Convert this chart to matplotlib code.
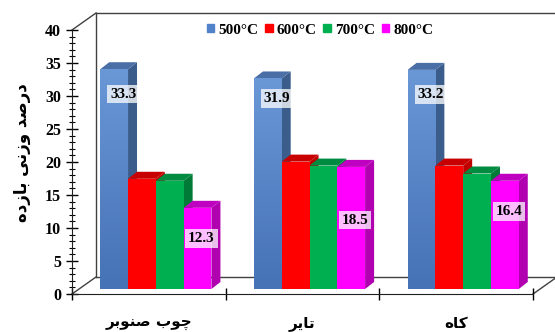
import numpy as np
import matplotlib.pyplot as plt
from matplotlib.patches import Polygon, Rectangle
from matplotlib.colors import LinearSegmentedColormap

categories = ["چوب صنوبر", "تایر", "کاه"]
temps = ["500°C", "600°C", "700°C", "800°C"]
yield_500 = [33.3, 31.9, 33.2]
yield_600 = [16.7, 19.3, 18.7]
yield_700 = [16.4, 18.7, 17.5]
yield_800 = [12.3, 18.5, 16.4]
ylabel = "درصد وزنی بازده"

# where the value boxes sit on the bars (in %)
label_y_500 = [30.3, 29.6, 30.2]
label_y_800 = [8.4, 11.2, 12.5]

# front, side, top colours for each series
colors = [
    ("#5283c8", "#3b5d8c", "#4a6ea6"),
    ("#ff0000", "#c00000", "#c80000"),
    ("#00b050", "#007a37", "#008c40"),
    ("#ff00ff", "#b000b0", "#c000c0"),
]

# matplotlib has no arabic shaping, so pick the presentation forms by hand
FORMS = {
    'ا': ('\ufe8d', '\ufe8e', None, None),
    'ب': ('\ufe8f', '\ufe90', '\ufe91', '\ufe92'),
    'ت': ('\ufe95', '\ufe96', '\ufe97', '\ufe98'),
    'چ': ('\ufb7a', '\ufb7b', '\ufb7c', '\ufb7d'),
    'د': ('\ufea9', '\ufeaa', None, None),
    'ر': ('\ufead', '\ufeae', None, None),
    'ز': ('\ufeaf', '\ufeb0', None, None),
    'ص': ('\ufeb9', '\ufeba', '\ufebb', '\ufebc'),
    'ن': ('\ufee5', '\ufee6', '\ufee7', '\ufee8'),
    'و': ('\ufeed', '\ufeee', None, None),
    'ه': ('\ufee9', '\ufeea', '\ufeeb', '\ufeec'),
    'ک': ('\ufb8e', '\ufb8f', '\ufb90', '\ufb91'),
    'ی': ('\ufbfc', '\ufbfd', '\ufbfe', '\ufbff'),
}


def shape(s):
    out = []
    for k, ch in enumerate(s):
        if ch not in FORMS:
            out.append(ch)
            continue
        prev = s[k - 1] if k > 0 else ''
        nxt = s[k + 1] if k + 1 < len(s) else ''
        f = FORMS[ch]
        jp = prev in FORMS and FORMS[prev][2] is not None
        jn = f[2] is not None and nxt in FORMS
        if jp and jn:
            out.append(f[3])
        elif jp:
            out.append(f[1])
        elif jn:
            out.append(f[2])
        else:
            out.append(f[0])
    return ''.join(out)[::-1]


W, H = 555, 332
fig = plt.figure(figsize=(W / 100, H / 100), dpi=100)
L, R, B, T = 72, 533, 294, 30
ax = fig.add_axes([L / W, 1 - B / H, (R - L) / W, (B - T) / H])
sx = (R - L) / 3.0
sy = (B - T) / 40.0


def off(dx, dy):
    return dx / sx, dy / sy


serif = dict(family="Liberation Serif", weight="bold")

# back wall and floor
wx, wy = off(24, 17)
lc = dict(color="#404040", lw=1.0, clip_on=False, zorder=1)
ax.plot([-0.5, -0.5 + wx], [40, 40 + wy], **lc)
ax.plot([-0.5, -0.5 + wx], [0, wy], **lc)
ax.plot([-0.5 + wx, -0.5 + wx], [wy, 40 + wy], **lc)
ax.plot([-0.5 + wx, 2.5 + wx], [40 + wy, 40 + wy], **lc)
ax.plot([-0.5 + wx, 2.5 + wx], [wy, wy], **lc)
ax.plot([2.5, 2.5 + wx], [0, wy], **lc)

fx, fy = off(7, 5)
dx, dy = off(9, 7)
bw = 27.8 / sx
blue_cmap = LinearSegmentedColormap.from_list("b", ["#4672b6", "#6a97d6"])

series = [yield_500, yield_600, yield_700, yield_800]
for i in range(len(categories)):
    for j, vals in enumerate(series):
        v = vals[i]
        x0 = i + fx + (j - 2) * bw
        top = fy + v
        fc, sc, tc = colors[j]
        z = 3 + j
        ax.add_patch(Polygon([(x0 + bw, fy), (x0 + bw + dx, fy + dy), (x0 + bw + dx, top + dy),
                              (x0 + bw, top)], closed=True, fc=sc, ec="none", zorder=z))
        ax.add_patch(Polygon([(x0, top), (x0 + dx, top + dy), (x0 + bw + dx, top + dy),
                              (x0 + bw, top)], closed=True, fc=tc, ec="none", zorder=z))
        bars = ax.bar(x0, v, width=bw, bottom=fy, align="edge", color=fc, zorder=z + 0.5)
        if j == 0:
            grad = np.linspace(0, 1, 100).reshape(-1, 1)
            im = ax.imshow(grad, cmap=blue_cmap, origin="lower", aspect="auto",
                           extent=(x0, x0 + bw, fy, top), zorder=z + 0.6)
            im.set_clip_path(bars[0])

# value boxes
box = dict(facecolor="white", alpha=0.75, edgecolor="none", pad=2)
for i in range(len(categories)):
    x0 = i + fx - 2 * bw
    ax.text(x0 + bw / 2 + 9 / sx, label_y_500[i], f"{yield_500[i]}", ha="center", va="center",
            fontsize=11, bbox=box, zorder=20, **serif)
    x3 = i + fx + bw
    ax.text(x3 + bw / 2 + 4 / sx, label_y_800[i], f"{yield_800[i]}", ha="center", va="center",
            fontsize=11, bbox=box, zorder=20, **serif)

ax.set_xlim(-0.5, 2.5)
ax.set_ylim(0, 40)
for s in ["top", "right"]:
    ax.spines[s].set_visible(False)
ax.spines["left"].set_color("#202020")
ax.spines["bottom"].set_color("#202020")
ax.patch.set_alpha(0)

ax.set_yticks(np.arange(0, 41, 5))
ax.set_yticks(np.arange(0, 41, 1), minor=True)
ax.tick_params(axis="y", which="major", direction="inout", length=8, width=1, pad=4)
ax.tick_params(axis="y", which="minor", direction="inout", length=4, width=0.8)
for lab in ax.get_yticklabels():
    lab.set_fontfamily("Liberation Serif")
    lab.set_fontweight("bold")
    lab.set_fontsize(11.5)

ax.set_xticks([-0.5, 0.5, 1.5, 2.5])
ax.set_xticklabels([])
ax.tick_params(axis="x", which="major", direction="inout", length=9, width=1)
ax.set_xticks([0, 1, 2], [shape(c) for c in categories], minor=True)
ax.tick_params(axis="x", which="minor", length=0, pad=16)
for lab in ax.get_xticklabels(minor=True):
    lab.set_fontfamily("DejaVu Sans")
    lab.set_fontweight("bold")
    lab.set_fontsize(11)

fig.text(22 / W, 1 - 153 / H, shape(ylabel), rotation=90, ha="center", va="center",
         fontsize=12, family="DejaVu Sans", weight="bold")

handles = [Rectangle((0, 0), 1, 1, color=c[0]) for c in colors]
ax.legend(handles, temps, loc="center", bbox_to_anchor=(320 / W, 1 - 30 / H),
          bbox_transform=fig.transFigure, ncol=4, frameon=False, handlelength=0.5,
          handleheight=0.5, handletextpad=0.25, columnspacing=0.45,
          prop=dict(family="Liberation Serif", weight="bold", size=11))

fig.savefig("out.png", dpi=100)
